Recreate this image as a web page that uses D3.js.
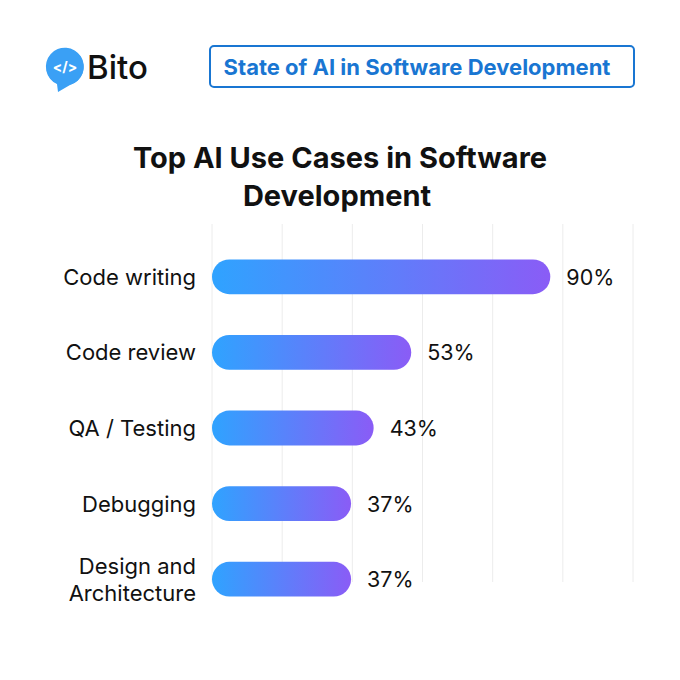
<!DOCTYPE html>
<html>
<head>
<meta charset="utf-8">
<script src="https://cdn.jsdelivr.net/npm/d3@7"></script>
<style>
  body { margin: 0; background: #fff; }
  svg text { font-family: Inter, "Noto Sans", sans-serif; }
</style>
</head>
<body>
<div id="chart"></div>
<script>
// data
var categories = [["Code writing"], ["Code review"], ["QA / Testing"], ["Debugging"], ["Design and", "Architecture"]];
var values = [90, 53, 43, 37, 37];
var valueLabels = ["90%", "53%", "43%", "37%", "37%"];
var gridValues = [0, 18.67, 37.33, 56, 74.67, 93.33, 112];

var width = 680, height = 680;

var svg = d3.select("#chart").append("svg")
    .attr("width", width)
    .attr("height", height);

svg.append("rect").attr("width", width).attr("height", height).attr("fill", "#fff");

// gradient for bars
var defs = svg.append("defs");
var grad = defs.append("linearGradient")
    .attr("id", "barGrad")
    .attr("x1", "0%").attr("x2", "100%")
    .attr("y1", "0%").attr("y2", "0%");
grad.append("stop").attr("offset", "0%").attr("stop-color", "#2fa3ff");
grad.append("stop").attr("offset", "100%").attr("stop-color", "#8a5cf6");

// logo
var logo = svg.append("g").attr("transform", "translate(65,67)");
logo.append("path")
    .attr("d", "M-8,17 A19,19 0 1,1 5,18 L-7,25 Z")
    .attr("fill", "#3aa0f5");
logo.append("circle").attr("r", 18.5).attr("fill", "#3aa0f5");
logo.append("text")
    .attr("text-anchor", "middle")
    .attr("y", 5)
    .attr("fill", "#fff")
    .style("font-size", "14px")
    .style("font-weight", "700")
    .text("</>");
svg.append("text")
    .attr("x", 87).attr("y", 79)
    .attr("fill", "#111")
    .style("font-size", "33px")
    .style("font-weight", "500")
    .text("Bito");

// header box
svg.append("rect")
    .attr("x", 210).attr("y", 46)
    .attr("width", 424).attr("height", 41)
    .attr("rx", 4)
    .attr("fill", "#fff")
    .attr("stroke", "#1976d2")
    .attr("stroke-width", 2);
svg.append("text")
    .attr("x", 417).attr("y", 75)
    .attr("text-anchor", "middle")
    .attr("fill", "#1976d2")
    .style("font-size", "22px")
    .style("font-weight", "700")
    .text("State of AI in Software Development");

// title
var title = svg.append("text")
    .attr("text-anchor", "middle")
    .attr("fill", "#111")
    .style("font-size", "29px")
    .style("font-weight", "700");
title.append("tspan").attr("x", 340).attr("y", 168).text("Top AI Use Cases in Software");
title.append("tspan").attr("x", 337).attr("y", 206).text("Development");

// scales
var x = d3.scaleLinear().domain([0, 112]).range([212, 633]);
var y = d3.scaleBand().domain(d3.range(values.length))
    .range([239, 617]).paddingInner(0.54).paddingOuter(0.27);

// gridlines
svg.append("g").selectAll("line")
    .data(gridValues)
  .enter().append("line")
    .attr("x1", function(d) { return x(d); })
    .attr("x2", function(d) { return x(d); })
    .attr("y1", 224).attr("y2", 582)
    .attr("stroke", "#ececec")
    .attr("stroke-width", 1);

// bars
svg.selectAll(".bar")
    .data(values)
  .enter().append("rect")
    .attr("class", "bar")
    .attr("x", x(0))
    .attr("y", function(d, i) { return y(i); })
    .attr("width", function(d) { return x(d) - x(0); })
    .attr("height", y.bandwidth())
    .attr("rx", y.bandwidth() / 2)
    .attr("fill", "url(#barGrad)");

// value labels
svg.selectAll(".val")
    .data(values)
  .enter().append("text")
    .attr("class", "val")
    .attr("x", function(d) { return x(d) + 16; })
    .attr("y", function(d, i) { return y(i) + y.bandwidth() / 2 + 8; })
    .attr("fill", "#111")
    .style("font-size", "21.5px")
    .text(function(d, i) { return valueLabels[i]; });

// category labels
var cats = svg.selectAll(".cat")
    .data(categories)
  .enter().append("text")
    .attr("class", "cat")
    .attr("text-anchor", "end")
    .attr("fill", "#111")
    .style("font-size", "22px");
cats.each(function(d, i) {
  var t = d3.select(this);
  var cy = y(i) + y.bandwidth() / 2 + 8;
  var off = (d.length - 1) * 13.5;
  d.forEach(function(line, j) {
    t.append("tspan").attr("x", 196).attr("y", cy - off + j * 27).text(line);
  });
});
</script>
</body>
</html>
